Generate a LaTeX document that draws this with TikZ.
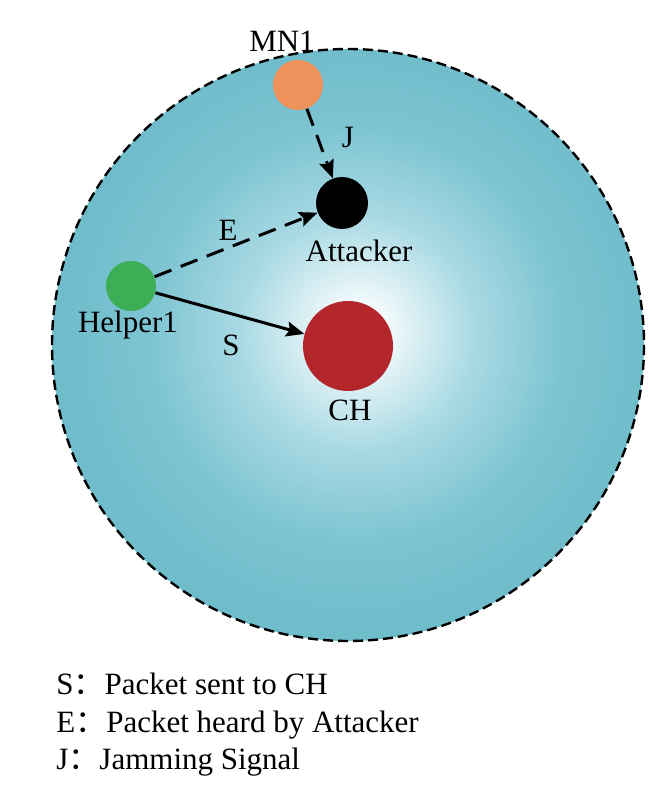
\documentclass[tikz,border=0pt]{standalone}
\usepackage{fontspec}
\setmainfont{Liberation Serif}
\newfontfamily\cjk{Noto Sans CJK SC}
\usetikzlibrary{arrows.meta}

\definecolor{outerteal}{RGB}{111,188,203}
\definecolor{deepteal}{RGB}{125,196,210}
\definecolor{midteal}{RGB}{168,217,227}
\definecolor{paleteal}{RGB}{240,249,251}
\definecolor{mnorange}{RGB}{239,145,90}
\definecolor{helpergreen}{RGB}{61,174,85}
\definecolor{chred}{RGB}{179,38,44}

\pgfdeclareradialshading{clustershade}{\pgfpoint{1bp}{1.3bp}}{%
  color(0bp)=(white); color(2.5bp)=(paleteal); color(10bp)=(midteal);
  color(17.5bp)=(deepteal); color(25bp)=(outerteal); color(50bp)=(outerteal)}

\begin{document}
\begin{tikzpicture}[x=0.5pt, y=-0.5pt, font=\fontsize{15.5}{18}\selectfont,
  sensor/.style={circle, inner sep=0pt, draw=none},
  link/.style={line width=1.5pt, -{Stealth[length=9pt,width=7.5pt,inset=1.5pt]}},
  dashlink/.style={link, dash pattern=on 9pt off 5pt},
  tag/.style={anchor=base, inner sep=0pt}]
\useasboundingbox (0,0) rectangle (652,807);
% cluster area
\shade[shading=clustershade] (348,345) circle[radius=296];
\draw [line width=1.2pt, dash pattern=on 5pt off 2.5pt] (348,345) circle[radius=296];
% nodes
\node[sensor, fill=mnorange, minimum size=25pt] (mn1) at (298,85) {};
\node[sensor, fill=black, minimum size=26pt] (attacker) at (342,203) {};
\node[sensor, fill=helpergreen, minimum size=25pt] (helper1) at (131,286) {};
\node[sensor, fill=chred, minimum size=45pt] (ch) at (348,346) {};
\node[tag] (mn1-label) at (282,52) {MN1};
\node[tag] (attacker-label) at (359,262) {Attacker};
\node[tag] (helper1-label) at (128,332) {Helper1};
\node[tag] (ch-label) at (350,420) {CH};
% links
\draw [dashlink] (mn1) -- (attacker);
\draw [dashlink] (helper1) -- (attacker);
\draw [link] (helper1) -- (ch);
\node[tag] (j-label) at (348,148) {J};
\node[tag] (e-label) at (228,241) {E};
\node[tag] (s-label) at (231,355) {S};
% legend
\foreach \key/\txt/\y in {S/Packet sent to CH/694, E/Packet heard by Attacker/732, J/Jamming Signal/769} {
    \node[anchor=base west, inner sep=0pt] (legend-\key) at (56,\y) {\key{\cjk ：}\txt};
}
\end{tikzpicture}
\end{document}
